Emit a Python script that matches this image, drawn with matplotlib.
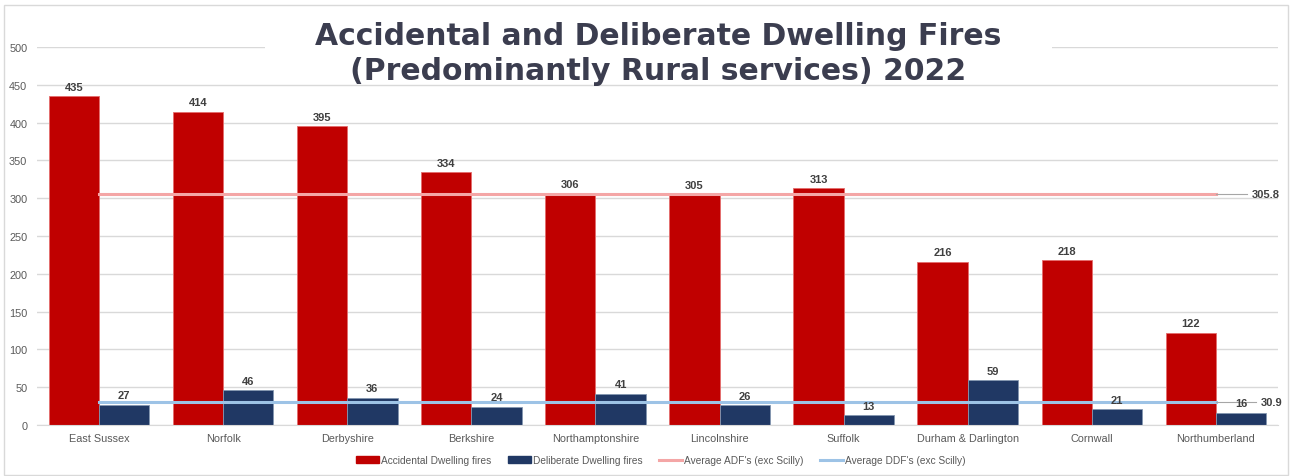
import matplotlib
matplotlib.use("Agg")
import matplotlib.pyplot as plt
from matplotlib.patches import Rectangle, Patch
from matplotlib.lines import Line2D
import numpy as np

categories = ["East Sussex", "Norfolk", "Derbyshire", "Berkshire", "Northamptonshire",
              "Lincolnshire", "Suffolk", "Durham & Darlington", "Cornwall", "Northumberland"]
accidental = [435, 414, 395, 334, 306, 305, 313, 216, 218, 122]
deliberate = [27, 46, 36, 24, 41, 26, 13, 59, 21, 16]
avg_adf = 305.8
avg_ddf = 30.9
yticks = [0, 50, 100, 150, 200, 250, 300, 350, 400, 450, 500]
title = "Accidental and Deliberate Dwelling Fires\n(Predominantly Rural services) 2022"
legend_labels = ["Accidental Dwelling fires", "Deliberate Dwelling fires",
                 "Average ADF's (exc Scilly)", "Average DDF's (exc Scilly)"]

plt.rcParams['font.family'] = ['Liberation Sans', 'DejaVu Sans']

W, H = 1290, 477
fig = plt.figure(figsize=(W / 100, H / 100), dpi=100)
ax = fig.add_axes([37 / W, (H - 426) / H, (1278 - 37) / W, (426 - 48) / H])

red = "#c00000"
navy = "#203864"
pink = "#f4a6a6"
lblue = "#9dc3e6"
txt = "#404040"
grey = "#595959"

x = np.arange(len(categories))
bw = 0.405
ax.bar(x - bw / 2, accidental, bw, color=red, edgecolor="#e46c6c", linewidth=0.6, zorder=2)
ax.bar(x + bw / 2, deliberate, bw, color=navy, edgecolor="#8497b0", linewidth=0.6, zorder=2)

for xi, v in zip(x, accidental):
    ax.text(xi - bw / 2, v + 6, str(v), ha="center", va="bottom", fontsize=8,
            fontweight="bold", color=txt, zorder=5)
for xi, v in zip(x, deliberate):
    ax.text(xi + bw / 2, v + 6, str(v), ha="center", va="bottom", fontsize=8,
            fontweight="bold", color=txt, zorder=5)

# average lines
ax.plot([x[0], x[-1]], [avg_adf, avg_adf], color=pink, lw=2.2, zorder=3)
ax.plot([x[-1], 9.25], [avg_adf, avg_adf], color="#a6a6a6", lw=0.8, zorder=3)
ax.text(9.29, avg_adf, f"{avg_adf:.1f}", ha="left", va="center", fontsize=8,
        fontweight="bold", color=txt, zorder=5)
ax.plot([x[0], x[-1]], [avg_ddf, avg_ddf], color=lblue, lw=2.2, zorder=3)
ax.plot([x[-1], 9.32], [avg_ddf, avg_ddf], color="#a6a6a6", lw=0.8, zorder=3)
ax.text(9.36, avg_ddf, f"{avg_ddf:.1f}", ha="left", va="center", fontsize=8,
        fontweight="bold", color=txt, zorder=5)

ax.set_xlim(-0.5, len(categories) - 0.5)
ax.set_ylim(0, 500)
ax.set_yticks(yticks)
ax.set_xticks(x)
ax.set_xticklabels(categories)
ax.tick_params(axis="both", length=0, labelsize=7.8, labelcolor=grey)
ax.tick_params(axis="y", pad=7)
ax.tick_params(axis="x", pad=6)
ax.yaxis.grid(True, color="#d9d9d9", lw=1)
ax.set_axisbelow(True)
for s in ax.spines.values():
    s.set_visible(False)
ax.spines["bottom"].set_visible(True)
ax.spines["bottom"].set_color("#d9d9d9")

# white box behind title, hiding top gridline
fig.patches.append(Rectangle((265 / W, (H - 62) / H), (1052 - 265) / W, 50 / H,
                             transform=fig.transFigure, facecolor="white",
                             edgecolor="none", zorder=3))
fig.text(658 / W, (H - 54) / H, title, ha="center", va="center", fontsize=21.5,
         fontweight="bold", color="#3b3d4f", family=["DejaVu Sans"],
         linespacing=1.22, zorder=10)

# outer border
fig.patches.append(Rectangle((4 / W, 1 / H), (1288 - 4) / W, (H - 7) / H,
                             transform=fig.transFigure, facecolor="none",
                             edgecolor="#d9d9d9", lw=1, zorder=0))

handles = [Patch(facecolor=red, edgecolor=red),
           Patch(facecolor=navy, edgecolor=navy),
           Line2D([], [], color=pink, lw=2.2),
           Line2D([], [], color=lblue, lw=2.2)]
leg = fig.legend(handles, legend_labels, loc="center", bbox_to_anchor=(661 / W, (H - 461) / H),
                 ncol=4, frameon=False, fontsize=7.3, handlelength=2.3, handleheight=0.6,
                 columnspacing=1.6, handletextpad=0.2, labelcolor=grey)

fig.savefig("out.png", dpi=100)
